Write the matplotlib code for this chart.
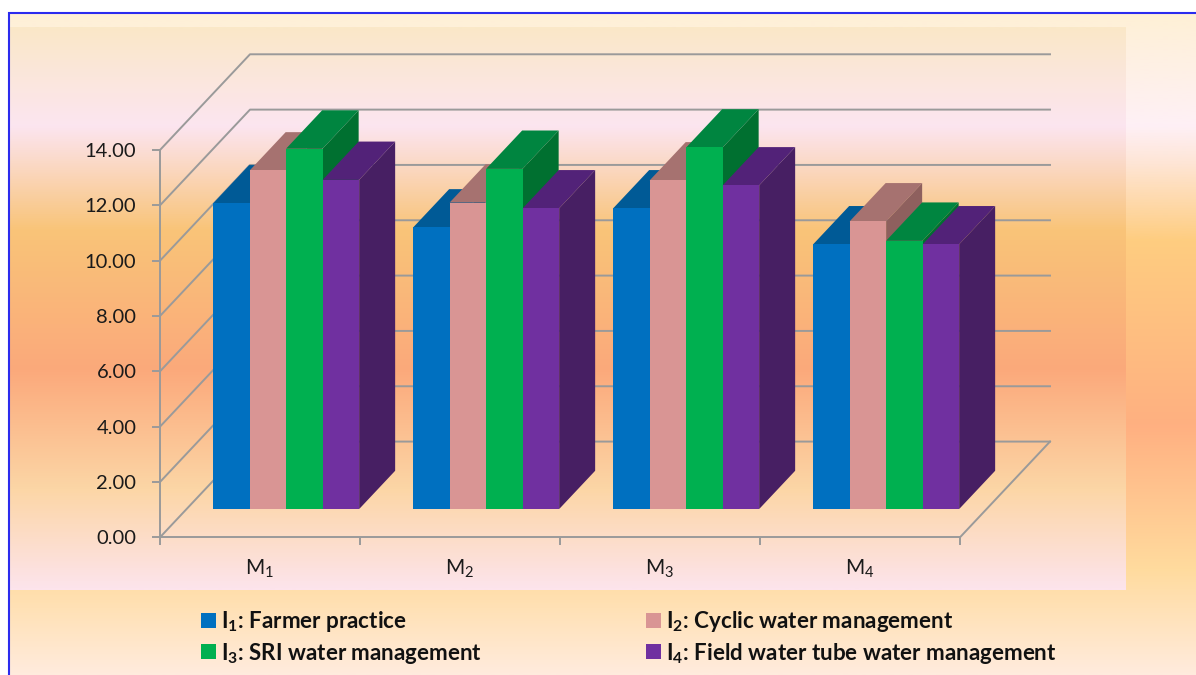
#!/usr/bin/env python
# Pseudo 3D clustered bars, the way the spreadsheet draws them

import numpy as np
import matplotlib
matplotlib.use("Agg")
import matplotlib.pyplot as plt
from matplotlib.colors import LinearSegmentedColormap

plt.rcParams['font.family'] = ['Lato', 'DejaVu Sans']
plt.rcParams['mathtext.fontset'] = 'custom'
plt.rcParams['mathtext.rm'] = 'Lato'
plt.rcParams['mathtext.bf'] = 'Lato:bold'
plt.rcParams['mathtext.default'] = 'regular'

months = ['M$_1$', 'M$_2$', 'M$_3$', 'M$_4$']
y_ticks = [0, 2, 4, 6, 8, 10, 12, 14]

i1_values = [11.05, 10.18, 10.87, 9.57]
i2_values = [12.24, 11.08, 11.88, 10.40]
i3_values = [13.03, 12.30, 13.07, 9.70]
i4_values = [11.90, 10.87, 11.70, 9.57]

labels = ['I$_1$: Farmer practice',
          'I$_2$: Cyclic water management',
          'I$_3$: SRI water management',
          'I$_4$: Field water tube water management']
series = [i1_values, i2_values, i3_values, i4_values]

front_colors = ['#0070C0', '#D99594', '#00B050', '#7030A0']
top_colors = ['#005A96', '#A67270', '#008540', '#522278']
side_colors = ['#004F85', '#8E605E', '#007030', '#471F63']

GRID = '#9A9A9A'
W, H = 1196, 675

# depth of the floor in data units
DEPTH_X = 0.45
DEPTH_Y = 3.46
BAR_START = 0.295  # where the bars stand on the floor
BAR_DEPTH = 0.40
BAR_WIDTH = 0.1825


def gradient(ax, x0, x1, y0, y1, stops):
    cmap = LinearSegmentedColormap.from_list('bg', [((y - y0) / (y1 - y0), c) for y, c in stops])
    img = np.linspace(0, 1, 512)[:, None]
    ax.imshow(img, cmap=cmap, extent=(x0, x1, y1, y0), aspect='auto', interpolation='bilinear')


fig = plt.figure(figsize=(W / 100, H / 100), dpi=100, facecolor='white')

# background, in pixels
bg = fig.add_axes([0, 0, 1, 1])
gradient(bg, 9, W, 14, H, [(14, '#FFF0D6'), (125, '#FEF0F6'), (160, '#FEE6D8'), (240, '#FECD80'),
                           (425, '#FFB081'), (570, '#FFDB9E'), (675, '#FFEBDD')])
gradient(bg, 9, 1126, 27, 590, [(27, '#FAE8C8'), (125, '#FCE5F0'), (150, '#FBDDD5'), (230, '#F9C478'),
                                (370, '#FBA97B'), (490, '#FCD6A6'), (590, '#FDE4EC')])
bg.plot([9, 9, W], [H, 13, 13], color='#2B2BEE', lw=1.5, solid_joinstyle='miter')
bg.set_xlim(0, W)
bg.set_ylim(H, 0)
bg.axis('off')

# front plane of the chart box
ax = fig.add_axes([160 / W, 1 - 537.3 / H, 800 / W, 387.3 / H])
ax.patch.set_alpha(0)
ax.set_xlim(-0.5, 3.5)
ax.set_ylim(0, 14)

# walls
for y in y_ticks:
    ax.plot([-0.5, -0.5 + DEPTH_X, 3.5 + DEPTH_X], [y, y + DEPTH_Y, y + DEPTH_Y],
            color=GRID, lw=1.4, clip_on=False, zorder=1)
ax.plot([3.5, 3.5 + DEPTH_X], [0, DEPTH_Y], color=GRID, lw=1.4, clip_on=False, zorder=1)

# bars, left to right so that each one covers the side of the previous one
x_pos = np.arange(len(months))
z = 3
handles = []
for i, values in enumerate(series):
    values = np.array(values)
    left = x_pos - 2 * BAR_WIDTH + i * BAR_WIDTH + BAR_START * DEPTH_X - 0.002
    bottom = BAR_START * DEPTH_Y
    bars = ax.bar(left, values, BAR_WIDTH, bottom=bottom, align='edge', color=front_colors[i],
                  label=labels[i], clip_on=False, zorder=z + 2, linewidth=0)
    handles.append(bars)
    dx = BAR_DEPTH * DEPTH_X
    dy = BAR_DEPTH * DEPTH_Y
    for x, v in zip(left, values):
        top = bottom + v
        ax.fill([x, x + BAR_WIDTH, x + BAR_WIDTH + dx, x + dx], [top, top, top + dy, top + dy],
                color=top_colors[i], clip_on=False, zorder=z, linewidth=0)
        ax.fill([x + BAR_WIDTH, x + BAR_WIDTH + dx, x + BAR_WIDTH + dx, x + BAR_WIDTH],
                [bottom, bottom + dy, top + dy, top],
                color=side_colors[i], clip_on=False, zorder=z + 1, linewidth=0)
    z += 3

for name in ['top', 'right']:
    ax.spines[name].set_visible(False)
for name in ['left', 'bottom']:
    ax.spines[name].set_color(GRID)
    ax.spines[name].set_linewidth(1.4)
    ax.spines[name].set_zorder(2)

ax.set_yticks(y_ticks)
ax.set_yticklabels(['%.2f' % y for y in y_ticks])
ax.set_xticks(np.arange(-0.5, 4, 1))
ax.set_xticklabels([])
ax.set_xticks(x_pos, months, minor=True)
ax.tick_params(axis='y', length=6, width=1.4, color=GRID, pad=11, labelsize=14.5, labelcolor='#1A1A1A')
ax.tick_params(axis='x', which='major', length=6, width=1.4, color=GRID)
ax.tick_params(axis='x', which='minor', length=0, pad=15, labelsize=15, labelcolor='#1A1A1A')

# ncol fills by column, so I1 I3 then I2 I4
order = [0, 2, 1, 3]
leg = fig.legend([handles[k] for k in order], [labels[k] for k in order], ncol=2, frameon=False,
                 loc='upper left', bbox_to_anchor=(201 / W, 1 - 609 / H), borderaxespad=0, borderpad=0,
                 prop={'weight': 'bold', 'size': 16.1}, handlelength=0.67, handleheight=0.67,
                 handletextpad=0.22, columnspacing=7.35, labelspacing=0.3)
for text in leg.get_texts():
    text.set_color('#111111')

plt.savefig('out.png', dpi=100)
